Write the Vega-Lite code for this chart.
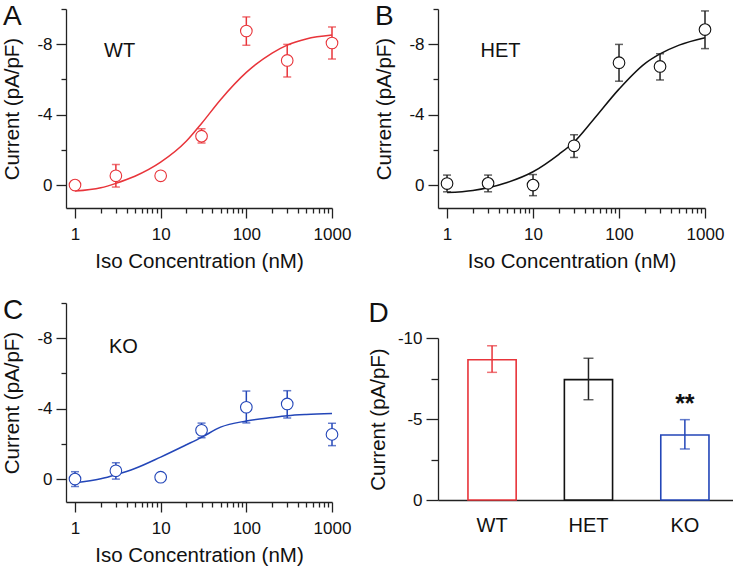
{
  "$schema": "https://vega.github.io/schema/vega-lite/v6.json",
  "background": "white",
  "padding": {"left": 2, "top": 0, "right": 0, "bottom": 0},
  "config": {
    "font": "Liberation Sans",
    "view": {"stroke": null},
    "axis": {
      "grid": false,
      "domainColor": "#222222",
      "tickColor": "#222222",
      "domainWidth": 1.3,
      "tickWidth": 1.3,
      "labelColor": "#111111",
      "titleColor": "#111111",
      "labelFontSize": 17,
      "titleFontSize": 20.5,
      "titleFontWeight": "normal",
      "labelFont": "Liberation Sans",
      "titleFont": "Liberation Sans"
    },
    "title": {"font": "Liberation Sans", "fontSize": 28, "fontWeight": "normal", "color": "#111111", "anchor": "start", "frame": "bounds"}
  },
  "datasets": {
    "points": [
      {"panel": "WT", "conc": 1, "mean": 0, "lo": -0.2, "hi": 0.2},
      {"panel": "WT", "conc": 3, "mean": -0.53, "lo": -1.17, "hi": 0.11},
      {"panel": "WT", "conc": 10, "mean": -0.53, "lo": -0.7, "hi": -0.36},
      {"panel": "WT", "conc": 30, "mean": -2.78, "lo": -3.2, "hi": -2.39},
      {"panel": "WT", "conc": 100, "mean": -8.75, "lo": -9.55, "hi": -7.94},
      {"panel": "WT", "conc": 300, "mean": -7.08, "lo": -7.99, "hi": -6.14},
      {"panel": "WT", "conc": 1000, "mean": -8.07, "lo": -8.98, "hi": -7.16},
      {"panel": "HET", "conc": 1, "mean": -0.09, "lo": -0.57, "hi": 0.38},
      {"panel": "HET", "conc": 3, "mean": -0.1, "lo": -0.57, "hi": 0.38},
      {"panel": "HET", "conc": 10, "mean": 0.0, "lo": -0.6, "hi": 0.6},
      {"panel": "HET", "conc": 30, "mean": -2.23, "lo": -2.86, "hi": -1.57},
      {"panel": "HET", "conc": 100, "mean": -6.95, "lo": -7.99, "hi": -5.9},
      {"panel": "HET", "conc": 300, "mean": -6.74, "lo": -7.46, "hi": -5.97},
      {"panel": "HET", "conc": 1000, "mean": -8.83, "lo": -9.89, "hi": -7.75},
      {"panel": "KO", "conc": 1, "mean": 0, "lo": -0.42, "hi": 0.42},
      {"panel": "KO", "conc": 3, "mean": -0.47, "lo": -0.93, "hi": 0.0},
      {"panel": "KO", "conc": 10, "mean": -0.11, "lo": -0.25, "hi": 0.03},
      {"panel": "KO", "conc": 30, "mean": -2.77, "lo": -3.18, "hi": -2.35},
      {"panel": "KO", "conc": 100, "mean": -4.08, "lo": -5.0, "hi": -3.19},
      {"panel": "KO", "conc": 300, "mean": -4.27, "lo": -5.02, "hi": -3.47},
      {"panel": "KO", "conc": 1000, "mean": -2.54, "lo": -3.17, "hi": -1.9}
    ],
    "curves": [
      {"panel": "WT", "conc": 1, "fit": 0.34},
      {"panel": "WT", "conc": 2, "fit": 0.15},
      {"panel": "WT", "conc": 3, "fit": -0.1},
      {"panel": "WT", "conc": 5, "fit": -0.5},
      {"panel": "WT", "conc": 10, "fit": -1.3},
      {"panel": "WT", "conc": 20, "fit": -2.5},
      {"panel": "WT", "conc": 30, "fit": -3.5},
      {"panel": "WT", "conc": 50, "fit": -4.85},
      {"panel": "WT", "conc": 100, "fit": -6.4},
      {"panel": "WT", "conc": 200, "fit": -7.5},
      {"panel": "WT", "conc": 300, "fit": -7.95},
      {"panel": "WT", "conc": 500, "fit": -8.3},
      {"panel": "WT", "conc": 1000, "fit": -8.52},
      {"panel": "HET", "conc": 1, "fit": 0.42},
      {"panel": "HET", "conc": 2, "fit": 0.3},
      {"panel": "HET", "conc": 3, "fit": 0.15},
      {"panel": "HET", "conc": 5, "fit": -0.15},
      {"panel": "HET", "conc": 10, "fit": -0.76},
      {"panel": "HET", "conc": 20, "fit": -1.75},
      {"panel": "HET", "conc": 30, "fit": -2.45},
      {"panel": "HET", "conc": 50, "fit": -3.7},
      {"panel": "HET", "conc": 100, "fit": -5.45},
      {"panel": "HET", "conc": 200, "fit": -6.9},
      {"panel": "HET", "conc": 300, "fit": -7.45},
      {"panel": "HET", "conc": 500, "fit": -7.95},
      {"panel": "HET", "conc": 1000, "fit": -8.37},
      {"panel": "KO", "conc": 1, "fit": 0.21},
      {"panel": "KO", "conc": 2, "fit": -0.02},
      {"panel": "KO", "conc": 3, "fit": -0.25},
      {"panel": "KO", "conc": 5, "fit": -0.6},
      {"panel": "KO", "conc": 10, "fit": -1.25},
      {"panel": "KO", "conc": 20, "fit": -1.95},
      {"panel": "KO", "conc": 30, "fit": -2.37},
      {"panel": "KO", "conc": 50, "fit": -2.95},
      {"panel": "KO", "conc": 100, "fit": -3.3},
      {"panel": "KO", "conc": 200, "fit": -3.5},
      {"panel": "KO", "conc": 300, "fit": -3.6},
      {"panel": "KO", "conc": 500, "fit": -3.67},
      {"panel": "KO", "conc": 1000, "fit": -3.72}
    ],
    "labels": [
      {"panel": "WT", "label": "WT"},
      {"panel": "HET", "label": "HET"},
      {"panel": "KO", "label": "KO"}
    ],
    "bars": [
      {"genotype": "WT", "mean": -8.66, "lo": -9.52, "hi": -7.88, "sig": ""},
      {"genotype": "HET", "mean": -7.43, "lo": -8.75, "hi": -6.19, "sig": ""},
      {"genotype": "KO", "mean": -4.01, "lo": -4.96, "hi": -3.15, "sig": "**"}
    ]
  },
  "spacing": 17,
  "hconcat": [
    {
      "spacing": 22,
      "vconcat": [
        {
          "width": 266, "height": 199,
          "title": {"text": "A", "dy": 31, "offset": 0},
          "layer": [
            {
              "data": {"name": "curves"},
              "transform": [{"filter": "datum.panel === 'WT'"}],
              "mark": {"type": "line", "color": "#e8343a", "strokeWidth": 1.5, "interpolate": "monotone"},
              "encoding": {
                "x": {"field": "conc", "type": "quantitative", "title": "Iso Concentration (nM)",
                  "scale": {"type": "log", "domain": [0.785, 1000], "nice": false},
                  "axis": {"values": [1,2,3,4,5,6,7,8,9,10,20,30,40,50,60,70,80,90,100,200,300,400,500,600,700,800,900,1000],
                    "labelExpr": "indexof([1,10,100,1000], datum.value) >= 0 ? toString(datum.value) : ''",
                    "tickSize": {"condition": {"test": "indexof([1,10,100,1000], datum.value) >= 0", "value": 10}, "value": 5},
                    "labelPadding": 8, "titlePadding": 9, "labelFlush": false, "labelOverlap": false}},
                "y": {"field": "fit", "type": "quantitative", "title": "Current (pA/pF)",
                  "scale": {"domain": [-10, 1.3], "reverse": true, "nice": false, "zero": false},
                  "axis": {"values": [-10,-8,-6,-4,-2,0], "tickCount": 20,
                    "labelExpr": "datum.value % 4 === 0 ? toString(datum.value) : ''",
                    "tickSize": {"condition": {"test": "datum.value % 4 === 0", "value": 10}, "value": 5},
                    "labelPadding": 4, "titlePadding": 14, "labelOverlap": false}}
              }
            },
            {
              "data": {"name": "points"},
              "transform": [{"filter": "datum.panel === 'WT'"}],
              "mark": {"type": "errorbar", "color": "#e8343a", "ticks": true, "size": 8, "thickness": 1.5},
              "encoding": {
                "x": {"field": "conc", "type": "quantitative", "title": "Iso Concentration (nM)"},
                "y": {"field": "lo", "type": "quantitative", "title": "Current (pA/pF)"},
                "y2": {"field": "hi"}
              }
            },
            {
              "data": {"name": "points"},
              "transform": [{"filter": "datum.panel === 'WT'"}],
              "mark": {"type": "point", "shape": "circle", "size": 135, "filled": false, "fill": "white", "fillOpacity": 1, "stroke": "#e8343a", "strokeWidth": 1.1, "opacity": 1},
              "encoding": {
                "x": {"field": "conc", "type": "quantitative", "title": "Iso Concentration (nM)"},
                "y": {"field": "mean", "type": "quantitative", "title": "Current (pA/pF)"}
              }
            },
            {
              "data": {"name": "labels"},
              "transform": [{"filter": "datum.panel === 'WT'"}],
              "mark": {"type": "text", "fontSize": 20, "align": "left", "baseline": "alphabetic", "color": "#111111"},
              "encoding": {
                "x": {"datum": 2.18, "type": "quantitative", "title": "Iso Concentration (nM)"},
                "y": {"datum": -7.27, "type": "quantitative", "title": "Current (pA/pF)"},
                "text": {"field": "label"}
              }
            }
          ]
        },
        {
          "width": 266, "height": 199,
          "title": {"text": "C", "dy": 31, "offset": 0},
          "layer": [
            {
              "data": {"name": "curves"},
              "transform": [{"filter": "datum.panel === 'KO'"}],
              "mark": {"type": "line", "color": "#2346b8", "strokeWidth": 1.5, "interpolate": "monotone"},
              "encoding": {
                "x": {"field": "conc", "type": "quantitative", "title": "Iso Concentration (nM)",
                  "scale": {"type": "log", "domain": [0.785, 1000], "nice": false},
                  "axis": {"values": [1,2,3,4,5,6,7,8,9,10,20,30,40,50,60,70,80,90,100,200,300,400,500,600,700,800,900,1000],
                    "labelExpr": "indexof([1,10,100,1000], datum.value) >= 0 ? toString(datum.value) : ''",
                    "tickSize": {"condition": {"test": "indexof([1,10,100,1000], datum.value) >= 0", "value": 10}, "value": 5},
                    "labelPadding": 8, "titlePadding": 9, "labelFlush": false, "labelOverlap": false}},
                "y": {"field": "fit", "type": "quantitative", "title": "Current (pA/pF)",
                  "scale": {"domain": [-10, 1.3], "reverse": true, "nice": false, "zero": false},
                  "axis": {"values": [-10,-8,-6,-4,-2,0], "tickCount": 20,
                    "labelExpr": "datum.value % 4 === 0 ? toString(datum.value) : ''",
                    "tickSize": {"condition": {"test": "datum.value % 4 === 0", "value": 10}, "value": 5},
                    "labelPadding": 4, "titlePadding": 14, "labelOverlap": false}}
              }
            },
            {
              "data": {"name": "points"},
              "transform": [{"filter": "datum.panel === 'KO'"}],
              "mark": {"type": "errorbar", "color": "#2346b8", "ticks": true, "size": 8, "thickness": 1.5},
              "encoding": {
                "x": {"field": "conc", "type": "quantitative", "title": "Iso Concentration (nM)"},
                "y": {"field": "lo", "type": "quantitative", "title": "Current (pA/pF)"},
                "y2": {"field": "hi"}
              }
            },
            {
              "data": {"name": "points"},
              "transform": [{"filter": "datum.panel === 'KO'"}],
              "mark": {"type": "point", "shape": "circle", "size": 135, "filled": false, "fill": "white", "fillOpacity": 1, "stroke": "#2346b8", "strokeWidth": 1.1, "opacity": 1},
              "encoding": {
                "x": {"field": "conc", "type": "quantitative", "title": "Iso Concentration (nM)"},
                "y": {"field": "mean", "type": "quantitative", "title": "Current (pA/pF)"}
              }
            },
            {
              "data": {"name": "labels"},
              "transform": [{"filter": "datum.panel === 'KO'"}],
              "mark": {"type": "text", "fontSize": 20, "align": "left", "baseline": "alphabetic", "color": "#111111"},
              "encoding": {
                "x": {"datum": 2.49, "type": "quantitative", "title": "Iso Concentration (nM)"},
                "y": {"datum": -7.16, "type": "quantitative", "title": "Current (pA/pF)"},
                "text": {"field": "label"}
              }
            }
          ]
        }
      ]
    },
    {
      "spacing": 27,
      "vconcat": [
        {
          "width": 267, "height": 199,
          "title": {"text": "B", "dy": 31, "offset": 0},
          "layer": [
            {
              "data": {"name": "curves"},
              "transform": [{"filter": "datum.panel === 'HET'"}],
              "mark": {"type": "line", "color": "#111111", "strokeWidth": 1.5, "interpolate": "monotone"},
              "encoding": {
                "x": {"field": "conc", "type": "quantitative", "title": "Iso Concentration (nM)",
                  "scale": {"type": "log", "domain": [0.785, 1000], "nice": false},
                  "axis": {"values": [1,2,3,4,5,6,7,8,9,10,20,30,40,50,60,70,80,90,100,200,300,400,500,600,700,800,900,1000],
                    "labelExpr": "indexof([1,10,100,1000], datum.value) >= 0 ? toString(datum.value) : ''",
                    "tickSize": {"condition": {"test": "indexof([1,10,100,1000], datum.value) >= 0", "value": 10}, "value": 5},
                    "labelPadding": 8, "titlePadding": 9, "labelFlush": false, "labelOverlap": false}},
                "y": {"field": "fit", "type": "quantitative", "title": "Current (pA/pF)",
                  "scale": {"domain": [-10, 1.3], "reverse": true, "nice": false, "zero": false},
                  "axis": {"values": [-10,-8,-6,-4,-2,0], "tickCount": 20,
                    "labelExpr": "datum.value % 4 === 0 ? toString(datum.value) : ''",
                    "tickSize": {"condition": {"test": "datum.value % 4 === 0", "value": 10}, "value": 5},
                    "labelPadding": 4, "titlePadding": 14, "labelOverlap": false}}
              }
            },
            {
              "data": {"name": "points"},
              "transform": [{"filter": "datum.panel === 'HET'"}],
              "mark": {"type": "errorbar", "color": "#222222", "ticks": true, "size": 8, "thickness": 1.5},
              "encoding": {
                "x": {"field": "conc", "type": "quantitative", "title": "Iso Concentration (nM)"},
                "y": {"field": "lo", "type": "quantitative", "title": "Current (pA/pF)"},
                "y2": {"field": "hi"}
              }
            },
            {
              "data": {"name": "points"},
              "transform": [{"filter": "datum.panel === 'HET'"}],
              "mark": {"type": "point", "shape": "circle", "size": 135, "filled": false, "fill": "white", "fillOpacity": 1, "stroke": "#111111", "strokeWidth": 1.1, "opacity": 1},
              "encoding": {
                "x": {"field": "conc", "type": "quantitative", "title": "Iso Concentration (nM)"},
                "y": {"field": "mean", "type": "quantitative", "title": "Current (pA/pF)"}
              }
            },
            {
              "data": {"name": "labels"},
              "transform": [{"filter": "datum.panel === 'HET'"}],
              "mark": {"type": "text", "fontSize": 20, "align": "left", "baseline": "alphabetic", "color": "#111111"},
              "encoding": {
                "x": {"datum": 2.45, "type": "quantitative", "title": "Iso Concentration (nM)"},
                "y": {"datum": -7.27, "type": "quantitative", "title": "Current (pA/pF)"},
                "text": {"field": "label"}
              }
            }
          ]
        },
        {
          "width": 295, "height": 162,
          "title": {"text": "D", "offset": 12, "dy": 22},
          "data": {"name": "bars"},
          "encoding": {
            "x": {"field": "genotype", "type": "nominal", "sort": ["WT", "HET", "KO"], "title": null,
              "scale": {"paddingInner": 0.5, "paddingOuter": 0.28, "align": 0.555},
              "axis": {"ticks": false, "labelAngle": 0, "labelFontSize": 20, "labelPadding": 15, "domainWidth": 1.3}}
          },
          "layer": [
            {
              "mark": {"type": "bar", "fill": "white", "strokeWidth": 1.6},
              "encoding": {
                "y": {"field": "mean", "type": "quantitative", "title": "Current (pA/pF)",
                  "scale": {"domain": [-10, 0], "reverse": true, "nice": false, "zero": false},
                  "axis": {"values": [-10, -7.5, -5, -2.5, 0], "tickCount": 20,
                    "labelExpr": "datum.value % 5 === 0 ? toString(datum.value) : ''",
                    "tickSize": {"condition": {"test": "datum.value % 5 === 0", "value": 12}, "value": 7},
                    "labelPadding": 4, "titlePadding": 9, "labelOverlap": false}},
                "stroke": {"field": "genotype", "type": "nominal", "scale": {"domain": ["WT", "HET", "KO"], "range": ["#e8343a", "#111111", "#2346b8"]}, "legend": null}
              }
            },
            {
              "mark": {"type": "errorbar", "ticks": true, "size": 10, "thickness": 1.5},
              "encoding": {
                "y": {"field": "lo", "type": "quantitative", "title": "Current (pA/pF)"},
                "y2": {"field": "hi"},
                "color": {"field": "genotype", "type": "nominal", "scale": {"domain": ["WT", "HET", "KO"], "range": ["#e8343a", "#222222", "#2346b8"]}, "legend": null}
              }
            },
            {
              "mark": {"type": "text", "fontSize": 25, "fontWeight": "bold", "baseline": "alphabetic", "dy": -8, "color": "#111111"},
              "encoding": {
                "y": {"field": "lo", "type": "quantitative", "title": "Current (pA/pF)"},
                "text": {"field": "sig"}
              }
            }
          ]
        }
      ]
    }
  ]
}
